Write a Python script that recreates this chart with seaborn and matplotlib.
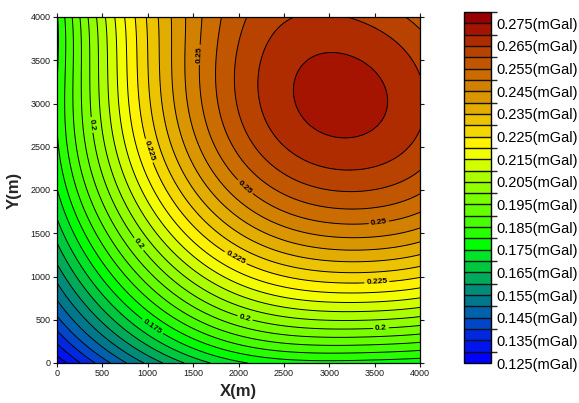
import numpy as np
import matplotlib
matplotlib.use("Agg")
import matplotlib.pyplot as plt
from matplotlib.colors import ListedColormap, BoundaryNorm
import seaborn as sns

# Survey grid nodes (m)
x_nodes = [0, 500, 1000, 1500, 2000, 2500, 3000, 3500, 4000]
y_nodes = [0, 500, 1000, 1500, 2000, 2500, 3000, 3500, 4000]

# Gravity anomaly at the nodes (mGal), one row per y_nodes value
g_y0000 = [0.1265, 0.1425, 0.1565, 0.1665, 0.1735, 0.1773, 0.1785, 0.1785, 0.1768]
g_y0500 = [0.1435, 0.1605, 0.1765, 0.1900, 0.1995, 0.2035, 0.2048, 0.2046, 0.2030]
g_y1000 = [0.1570, 0.1765, 0.1925, 0.2060, 0.2170, 0.2255, 0.2279, 0.2283, 0.2254]
g_y1500 = [0.1670, 0.1870, 0.2075, 0.2230, 0.2345, 0.2425, 0.2465, 0.2460, 0.2439]
g_y2000 = [0.1760, 0.1965, 0.2175, 0.2346, 0.2485, 0.2570, 0.2597, 0.2594, 0.2559]
g_y2500 = [0.1780, 0.2045, 0.2257, 0.2425, 0.2565, 0.2640, 0.2682, 0.2678, 0.2630]
g_y3000 = [0.1795, 0.2065, 0.2292, 0.2470, 0.2608, 0.2687, 0.2726, 0.2715, 0.2665]
g_y3500 = [0.1800, 0.2078, 0.2303, 0.2458, 0.2605, 0.2678, 0.2714, 0.2697, 0.2628]
g_y4000 = [0.1795, 0.2080, 0.2299, 0.2481, 0.2607, 0.2625, 0.2658, 0.2627, 0.2585]

# Contour interval and labelled isolines (mGal)
contour_step = 0.005
level_min, level_max = 0.125, 0.280
label_levels = [0.175, 0.2, 0.225, 0.25]
colorbar_ticks = [0.125, 0.135, 0.145, 0.155, 0.165, 0.175, 0.185,
                  0.195, 0.205, 0.215, 0.225, 0.235, 0.245, 0.255,
                  0.265, 0.275]
x_ticks = [0, 500, 1000, 1500, 2000, 2500, 3000, 3500, 4000]
y_ticks = [0, 500, 1000, 1500, 2000, 2500, 3000, 3500, 4000]

# Band colours, lowest band first
band_rgb = [
    (0, 0, 255), (0, 20, 240), (0, 40, 222), (0, 70, 200), (0, 98, 172),
    (0, 120, 140), (0, 140, 120), (0, 170, 90), (0, 200, 62), (0, 228, 40),
    (0, 255, 0), (40, 255, 0), (70, 255, 0), (100, 255, 0), (122, 255, 0),
    (145, 255, 0), (172, 255, 0), (210, 255, 0), (242, 255, 0), (255, 242, 0),
    (245, 215, 0), (235, 195, 0), (226, 172, 0), (218, 150, 0), (210, 128, 0),
    (202, 108, 0), (192, 86, 0), (184, 66, 0), (174, 44, 0), (164, 20, 0),
    (152, 0, 0),
]

sns.set_theme(style="ticks")
plt.rcParams["font.family"] = ["Liberation Sans", "DejaVu Sans"]

# Smooth the node values with a least-squares polynomial surface
grid = np.array([g_y0000, g_y0500, g_y1000, g_y1500, g_y2000,
                 g_y2500, g_y3000, g_y3500, g_y4000])
span = float(x_nodes[-1])
xn, yn = np.meshgrid(np.array(x_nodes) / span, np.array(y_nodes) / span)
degree = 6
powers = [(i, j) for i in range(degree + 1) for j in range(degree + 1 - i)]
design = np.column_stack([xn.ravel() ** i * yn.ravel() ** j for i, j in powers])
coef, *_ = np.linalg.lstsq(design, grid.ravel(), rcond=None)

xf = np.linspace(x_nodes[0], x_nodes[-1], 401)
yf = np.linspace(y_nodes[0], y_nodes[-1], 401)
XF, YF = np.meshgrid(xf, yf)
ZF = sum(c * (XF / span) ** i * (YF / span) ** j for c, (i, j) in zip(coef, powers))

n_bands = int(round((level_max - level_min) / contour_step))
levels = np.round(np.linspace(level_min, level_max, n_bands + 1), 3)
cmap = ListedColormap([tuple(c / 255 for c in rgb) for rgb in band_rgb])
norm = BoundaryNorm(levels, cmap.N)

fig = plt.figure(figsize=(5.79, 4.03), dpi=100)
ax = fig.add_axes([57 / 579, 40 / 403, 363 / 579, 346 / 403])

cf = ax.contourf(XF, YF, ZF, levels=levels, cmap=cmap, norm=norm, extend="neither")
plain_levels = [lv for lv in levels if not np.isclose(label_levels, lv).any()]
ax.contour(XF, YF, ZF, levels=plain_levels, colors="black", linewidths=0.7)
cs_lab = ax.contour(XF, YF, ZF, levels=label_levels, colors="black",
                    linewidths=0.7)

label_spots = [(364, 2751), (859, 1341), (2072, 520), (3570, 405),
               (970, 2439), (1961, 1202), (3526, 913),
               (1609, 3561), (2072, 2035), (3548, 1618),
               (1047, 416)]
lbl = ax.clabel(cs_lab, manual=label_spots, fmt=lambda v: f"{v:g}",
                fontsize=6, inline=True, inline_spacing=2, colors="black")
for t in lbl:
    t.set_fontweight("bold")

ax.set_xlim(x_nodes[0], x_nodes[-1])
ax.set_ylim(y_nodes[0], y_nodes[-1])
ax.set_xticks(x_ticks)
ax.set_yticks(y_ticks)
ax.tick_params(direction="out", length=3, width=0.8, top=True, right=True,
               labeltop=False, labelright=False, labelsize=6.5,
               colors="#1a1a1a", pad=1.5)
for sp in ax.spines.values():
    sp.set_visible(True)
    sp.set_color("black")
    sp.set_linewidth(0.9)

ax.set_xlabel("X(m)", fontsize=12, fontweight="bold")
ax.set_ylabel("Y(m)", fontsize=12, fontweight="bold")
ax.xaxis.set_label_coords(0.5, -0.06)
ax.yaxis.set_label_coords(-0.097, 0.5)

cax = fig.add_axes([464 / 579, 40 / 403, 27 / 579, 351 / 403])
cb = fig.colorbar(cf, cax=cax, ticks=colorbar_ticks, drawedges=True)
cb.ax.set_yticklabels([f"{t:.3f}(mGal)" for t in colorbar_ticks])
cb.ax.tick_params(length=0, labelsize=10.5, pad=4, colors="black")
cb.outline.set_linewidth(1.0)
cb.outline.set_edgecolor("black")
cb.dividers.set_linewidth(1.0)
cb.dividers.set_color("#111111")

fig.savefig("out.png", dpi=100)
